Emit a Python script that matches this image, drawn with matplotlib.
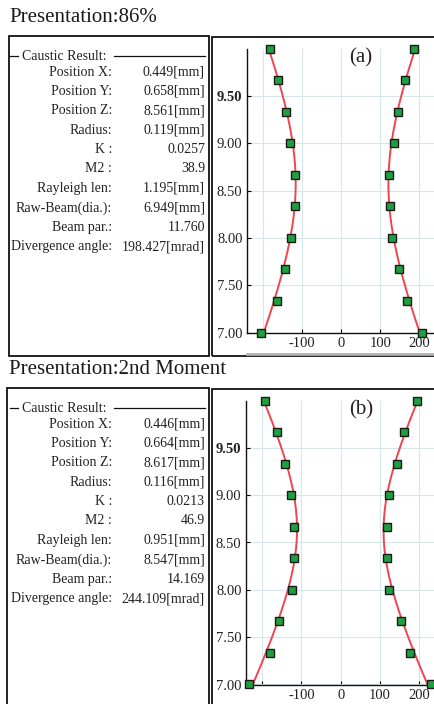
import numpy as np
import matplotlib.pyplot as plt
from matplotlib.patches import Rectangle
from matplotlib.lines import Line2D

plt.rcParams['font.family'] = ['Liberation Serif', 'DejaVu Serif']
plt.rcParams['axes.unicode_minus'] = False

W, H = 435, 704

# measured caustic points (z in mm, x in um)
z_pos = [10.0, 9.667, 9.333, 9.0, 8.667, 8.333, 8.0, 7.667, 7.333, 7.0]
left_a = [-183, -161, -141, -132, -119, -119, -129, -143, -165, -205]
right_a = [187, 164, 146, 136, 123, 124, 130, 147, 169, 207]
left_b = [-193, -163, -143, -126, -120, -119, -125, -157, -180, -233]
right_b = [194, 161, 142, 124, 117, 118, 123, 154, 176, 230]

result_labels = ['Position X:', 'Position Y:', 'Position Z:', 'Radius:', 'K :',
                 'M2 :', 'Rayleigh len:', 'Raw-Beam(dia.):', 'Beam par.:',
                 'Divergence angle:']
values_a = ['0.449[mm]', '0.658[mm]', '8.561[mm]', '0.119[mm]', '0.0257', '38.9',
            '1.195[mm]', '6.949[mm]', '11.760', '198.427[mrad]']
values_b = ['0.446[mm]', '0.664[mm]', '8.617[mm]', '0.116[mm]', '0.0213', '46.9',
            '0.951[mm]', '8.547[mm]', '14.169', '244.109[mrad]']
titles = ['Presentation:86%', 'Presentation:2nd Moment']
tags = ['(a)', '(b)']
yticks = [7.0, 7.5, 8.0, 8.5, 9.0, 9.5]
ytick_labels = ['7.00', '7.50', '8.00', '8.50', '9.00', '9.50']
xticks = [-100, 0, 100, 200]


def fx(px):
  return px / W


def fy(py):
  return 1 - py / H


def fit_curve(z, x):
  # caustic fit: w^2 quadratic in z
  c = np.polyfit(z, np.array(x, float)**2, 2)
  zz = np.linspace(min(z), max(z), 200)
  return zz, np.sign(np.mean(x)) * np.sqrt(np.polyval(c, zz))


def box(fig, x0, y0, x1, y1):
  fig.add_artist(Rectangle((fx(x0), fy(y1)), fx(x1) - fx(x0), fy(y0) - fy(y1),
                           transform=fig.transFigure, fill=False,
                           edgecolor='#111111', lw=1.3))


def draw_section(fig, top, bottom, title, values, left, right, tag, box_left, ax_left):
  # top: pixel y of the box top
  fig.text(fx(9), fy(top - 18), title, fontsize=15, ha='left', va='center',
           color='#1a1a1a')

  box(fig, box_left, top, 209.3, bottom)
  box(fig, 212.3, top + 1, 460, bottom)

  hy = top + 20
  fig.add_artist(Line2D([fx(10.5), fx(18)], [fy(hy), fy(hy)], color='#111111', lw=0.9))
  fig.text(fx(22), fy(hy), 'Caustic Result:', fontsize=10, ha='left', va='center',
           color='#222222')
  fig.add_artist(Line2D([fx(114), fx(205)], [fy(hy), fy(hy)], color='#111111', lw=0.9))
  for i in range(len(result_labels)):
    yy = top + 36 + i * 19.4
    fig.text(fx(112), fy(yy), result_labels[i], fontsize=10, ha='right', va='center',
             color='#222222')
    fig.text(fx(205), fy(yy), values[i], fontsize=10, ha='right', va='center',
             color='#222222')

  ax_top = top + 12.5
  ax_bot = top + 296.5
  ax = fig.add_axes([fx(ax_left), fy(ax_bot), fx(435) - fx(ax_left), fy(ax_top) - fy(ax_bot)])
  ax.set_ylim(7.0, 10.0)
  ax.set_xlim(-242, 240)
  for s in ['top', 'right']:
    ax.spines[s].set_visible(False)
  for s in ['left', 'bottom']:
    ax.spines[s].set_color('#111111')
    ax.spines[s].set_linewidth(1.0)

  ax.set_yticks(yticks)
  ax.set_yticklabels(ytick_labels, fontsize=10.5, color='#222222')
  ax.get_yticklabels()[-1].set_fontweight('bold')
  ax.set_xticks([-200] + xticks)
  ax.set_xticklabels([''] + [str(v) for v in xticks], fontsize=10.5, color='#222222')
  ax.tick_params(direction='in', length=3, width=0.8, pad=3)
  ax.grid(True, color='#d6e7ec', lw=0.8)
  ax.set_axisbelow(True)

  for xs in (left, right):
    zz, ww = fit_curve(z_pos, xs)
    ax.plot(ww, zz, color='#f0444f', lw=1.4, clip_on=False, zorder=3)
    ax.plot(xs, z_pos, 's', ms=5.5, mfc='#1ea040', mec='#1a1a1a', mew=1.0,
            ls='none', clip_on=False, zorder=4)

  fig.text(fx(361), fy(top + 22), tag, fontsize=15, ha='center', va='center',
           color='#222222')
  return ax


fig = plt.figure(figsize=(W / 100, H / 100), dpi=100)

draw_section(fig, 36, 356, titles[0], values_a, left_a, right_a, tags[0], 8.7, 246.7)
fig.add_artist(Line2D([fx(247), fx(435)], [fy(354), fy(354)], color='#b0b0b0', lw=2))
draw_section(fig, 388, 760, titles[1], values_b, left_b, right_b, tags[1], 7.3, 245.7)

fig.savefig('out.png', dpi=100)
